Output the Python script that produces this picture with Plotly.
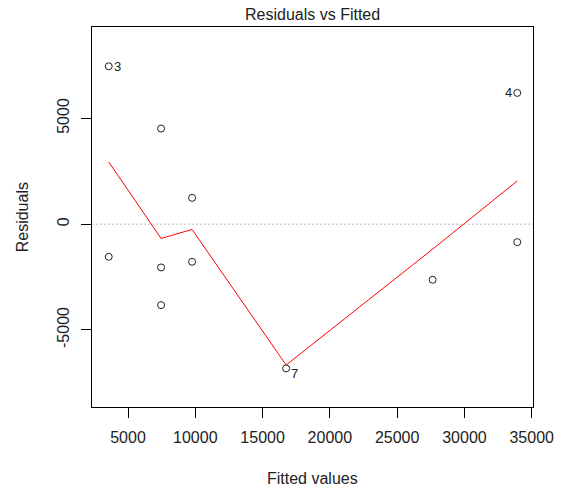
import plotly.graph_objects as go

# Fitted values and residuals of the linear model
fitted = [3565, 3565, 7457, 7457, 7457, 9760, 9760, 16750, 27637, 33928, 33928]
residuals = [7463, -1543, 4520, -2047, -3826, 1243, -1779, -6818, -2630, 6204, -850]
obs_id = [3, 1, 5, 2, 6, 8, 9, 7, 10, 4, 11]

# Observations flagged with the largest residuals
flagged = [3, 7, 4]

# Smoothed trend of residuals against fitted values
smooth_x = [3565, 7457, 9760, 16750, 27637, 33928]
smooth_y = [2943, -677, -252, -6660, -1181, 2045]

x_ticks = [5000, 10000, 15000, 20000, 25000, 30000, 35000]
y_ticks = [-5000, 0, 5000]

FONT = "Liberation Sans, Arial, sans-serif"

fig = go.Figure()

fig.add_trace(go.Scatter(
    x=smooth_x, y=smooth_y, mode="lines",
    line=dict(color="#FF0000", width=1),
    hoverinfo="skip", showlegend=False,
))

fig.add_trace(go.Scatter(
    x=fitted, y=residuals, mode="markers",
    marker=dict(symbol="circle-open", size=7, color="#222222",
                line=dict(width=1, color="#222222")),
    text=[str(i) for i in obs_id],
    showlegend=False,
))

# Identify flagged observations: left-side points labelled to the right, and vice versa
mid = (min(fitted) + max(fitted)) / 2
for oid in flagged:
    k = obs_id.index(oid)
    fx, r = fitted[k], residuals[k]
    right = fx < mid
    fig.add_annotation(
        x=fx, y=r, xref="x", yref="y", text=str(oid), showarrow=False,
        xanchor="left" if right else "right", yanchor="middle",
        xshift=3 if right else -3, yshift=-5 if oid == 7 else 0,
        font=dict(family=FONT, size=13, color="#222222"),
    )

# Dotted reference line at zero
fig.add_shape(type="line", xref="paper", yref="y", x0=0, x1=1, y0=0, y1=0,
              line=dict(color="#BEBEBE", width=1, dash="2px,2px"))

axis_common = dict(
    showgrid=False, zeroline=False,
    showline=True, mirror=True, linecolor="black", linewidth=1,
    ticks="outside", ticklen=10, tickwidth=1, tickcolor="black",
    tickfont=dict(family=FONT, size=16, color="#222222"),
)

fig.update_xaxes(range=[2323, 35096], tickvals=x_ticks,
                 ticktext=[str(v) for v in x_ticks], ticklabelstandoff=6,
                 **axis_common)
fig.update_yaxes(range=[-8644, 9320], tickvals=y_ticks,
                 ticktext=[str(v) for v in y_ticks], tickangle=-90,
                 ticklabelstandoff=6, **axis_common)

fig.add_annotation(text="Residuals vs Fitted", xref="paper", yref="paper",
                   x=0.5, y=1.034, xanchor="center", yanchor="middle",
                   showarrow=False, font=dict(family=FONT, size=16, color="#222222"))
fig.add_annotation(text="Fitted values", xref="paper", yref="paper",
                   x=0.5, y=-0.189, xanchor="center", yanchor="middle",
                   showarrow=False, font=dict(family=FONT, size=16, color="#222222"))
fig.add_annotation(text="Residuals", xref="paper", yref="paper",
                   x=-0.158, y=0.5, xanchor="center", yanchor="middle", textangle=-90,
                   showarrow=False, font=dict(family=FONT, size=16, color="#222222"))

fig.update_layout(
    width=566, height=495,
    margin=dict(l=92, r=33, t=27, b=88, pad=0),
    paper_bgcolor="white", plot_bgcolor="white",
    hovermode="closest",
)

fig.write_html("out.html")
